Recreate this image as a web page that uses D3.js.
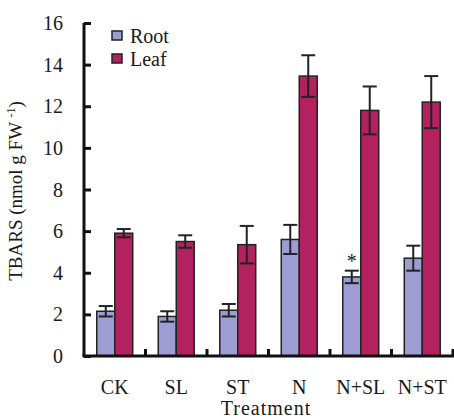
<!DOCTYPE html>
<html><head><meta charset="utf-8">
<script src="https://cdn.jsdelivr.net/npm/d3@7"></script>
<style>body{margin:0;background:#fff}svg{display:block}text{font-family:"Liberation Serif","Times New Roman",serif;fill:#1a1a1a}</style>
</head><body>
<script>
const categories = ["CK","SL","ST","N","N+SL","N+ST"];
const series = ["Root","Leaf"];
const rootValues = [2.15,1.9,2.2,5.6,3.8,4.7];
const rootErrors = [0.25,0.25,0.3,0.7,0.3,0.6];
const leafValues = [5.9,5.5,5.35,13.45,11.8,12.2];
const leafErrors = [0.2,0.3,0.9,1.0,1.15,1.25];
const yTicks = [0,2,4,6,8,10,12,14,16];
const marks = [{cat:"N+SL", series:"Root", label:"*"}];
const colors = {Root:"#9d9dd4", Leaf:"#b3215f"};

const W=454,H=419;
const svg=d3.select("body").append("svg").attr("width",W).attr("height",H);
const x0=d3.scaleBand().domain(categories).range([84,453]).padding(0);
const x1=d3.scaleBand().domain(series).range([0,x0.bandwidth()]).paddingInner(0).paddingOuter(0.71);
const y=d3.scaleLinear().domain([0,16]).range([356,23]);

const data=[];
categories.forEach((c,i)=>{
  data.push({cat:c,series:"Root",v:rootValues[i],e:rootErrors[i]});
  data.push({cat:c,series:"Leaf",v:leafValues[i],e:leafErrors[i]});
});
const g=svg.append("g");
g.selectAll("rect.bar").data(data).join("rect").attr("class","bar")
  .attr("x",d=>x0(d.cat)+x1(d.series)).attr("width",x1.bandwidth())
  .attr("y",d=>y(d.v)).attr("height",d=>y(0)-y(d.v))
  .attr("fill",d=>colors[d.series]).attr("stroke","#222").attr("stroke-width",1.5);
const cap=7;
data.forEach(d=>{
  const cx=x0(d.cat)+x1(d.series)+x1.bandwidth()/2;
  const eg=g.append("g").attr("stroke","#222").attr("stroke-width",2);
  eg.append("line").attr("x1",cx).attr("x2",cx).attr("y1",y(d.v-d.e)).attr("y2",y(d.v+d.e));
  eg.append("line").attr("x1",cx-cap).attr("x2",cx+cap).attr("y1",y(d.v+d.e)).attr("y2",y(d.v+d.e));
  eg.append("line").attr("x1",cx-cap).attr("x2",cx+cap).attr("y1",y(d.v-d.e)).attr("y2",y(d.v-d.e));
});
marks.forEach(m=>{
  const i=categories.indexOf(m.cat);
  const v=(m.series==="Root"?rootValues:leafValues)[i]+(m.series==="Root"?rootErrors:leafErrors)[i];
  svg.append("text").attr("x",x0(m.cat)+x1(m.series)+x1.bandwidth()/2).attr("y",y(v)-3)
    .attr("text-anchor","middle").attr("font-size",20).text(m.label);
});

// Y axis
const ya=svg.append("g").attr("transform","translate(84,0)")
  .call(d3.axisRight(y).tickValues(yTicks).tickSize(7).tickFormat(""));
ya.select(".domain").attr("stroke","#111").attr("stroke-width",3).attr("d",`M0,${y(16)}V${y(0)}`);
ya.selectAll(".tick line").attr("stroke","#111").attr("stroke-width",3);
svg.append("g").selectAll("text").data(yTicks).join("text")
  .attr("x",63).attr("y",d=>y(d)).attr("dy","0.35em").attr("text-anchor","end")
  .attr("font-size",20).text(d=>d);

// X axis
const xa=svg.append("g").attr("transform",`translate(0,${y(0)})`);
xa.append("line").attr("x1",82.5).attr("x2",454).attr("stroke","#111").attr("stroke-width",3);
xa.selectAll("line.t").data(categories.slice(1).concat(["end"])).join("line").attr("class","t")
  .attr("x1",(d,i)=>x0.range()[0]+x0.step()*(i+1)).attr("x2",(d,i)=>x0.range()[0]+x0.step()*(i+1))
  .attr("y1",0).attr("y2",-7).attr("stroke","#111").attr("stroke-width",3);
svg.append("g").selectAll("text").data(categories).join("text")
  .attr("x",d=>x0(d)+x0.bandwidth()/2).attr("y",387).attr("dy","0.35em")
  .attr("text-anchor","middle").attr("font-size",20).text(d=>d);
svg.append("text").attr("x",266).attr("y",408).attr("dy","0.35em").attr("text-anchor","middle")
  .attr("font-size",20).attr("letter-spacing",1).text("Treatment");

// Y title
const yt=svg.append("text").attr("transform","translate(22,191) rotate(-90)")
  .attr("text-anchor","middle").attr("font-size",19);
yt.append("tspan").text("TBARS (nmol g FW ");
yt.append("tspan").attr("dy",-7).attr("font-size",12).text("-1");
yt.append("tspan").attr("dy",7).text(")");

// Legend
const lg=svg.append("g");
series.forEach((s,i)=>{
  lg.append("rect").attr("x",112).attr("y",31+i*23).attr("width",10).attr("height",9)
    .attr("fill",colors[s]).attr("stroke","#222").attr("stroke-width",1.5);
  lg.append("text").attr("x",130).attr("y",36+i*23).attr("dy","0.35em").attr("font-size",20).text(s);
});
</script>
</body></html>
